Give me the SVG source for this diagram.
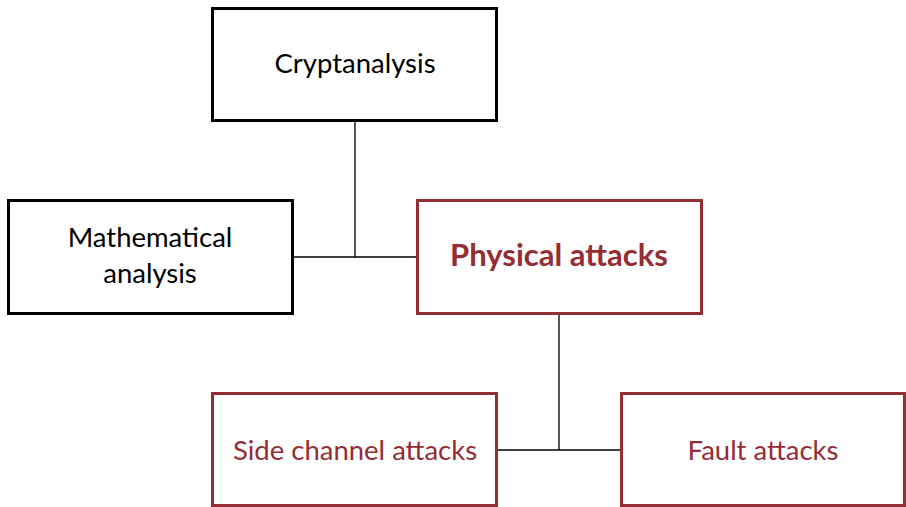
<svg xmlns="http://www.w3.org/2000/svg" width="906" height="507" viewBox="0 0 906 507">
<style>
.box{fill:#fff;stroke-width:3}
.blk{stroke:#000}
.red{stroke:#952d34}
text{font-family:Lato,"Open Sans",sans-serif;font-size:27.5px;text-anchor:middle}
.tb{fill:#000}
.tr{fill:#952d34}
.conn{stroke:#000;stroke-width:1.3;fill:none}
</style>
<rect width="906" height="507" fill="#fff"/>
<g id="connectors">
<path class="conn" d="M355 121V257M293 257H417"/>
<path class="conn" d="M559 314V450M497 450H621"/>
</g>
<g id="cryptanalysis">
<rect class="box blk" x="212.5" y="8.5" width="284" height="112"/>
<text class="tb" x="355" y="73">Cryptanalysis</text>
</g>
<g id="mathematical">
<rect class="box blk" x="8.5" y="200.5" width="284" height="113"/>
<text class="tb" x="150" y="247">Mathematical</text>
<text class="tb" x="150" y="283">analysis</text>
</g>
<g id="physical">
<rect class="box red" x="417.5" y="200.5" width="284" height="113"/>
<text class="tr" x="559" y="266" font-weight="bold" style="font-size:31px">Physical attacks</text>
</g>
<g id="sidechannel">
<rect class="box red" x="212.5" y="393.5" width="284" height="112"/>
<text class="tr" x="355" y="460">Side channel attacks</text>
</g>
<g id="fault">
<rect class="box red" x="621.5" y="393.5" width="283" height="112"/>
<text class="tr" x="763" y="460">Fault attacks</text>
</g>
</svg>
